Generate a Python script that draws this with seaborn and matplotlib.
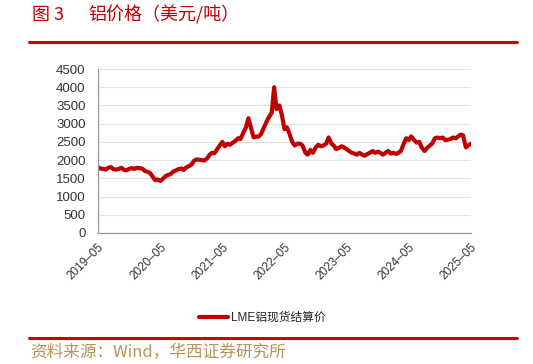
import matplotlib
matplotlib.use("Agg")
import matplotlib.pyplot as plt
import seaborn as sns
import pandas as pd
from matplotlib.lines import Line2D

months = pd.date_range("2019-05-01", "2025-05-01", freq="MS")
# two readings per month (start, mid-month)
prices = [
    1800, 1770, 1760, 1740, 1790, 1810, 1750, 1740, 1760, 1790, 1730, 1720,
    1760, 1780, 1760, 1790,
    1780, 1770, 1700, 1680, 1650, 1560, 1450, 1470, 1430, 1480, 1560, 1590,
    1620, 1680, 1720, 1750, 1770, 1730, 1800, 1830, 1880, 1980, 2020, 2010,
    2000, 1990, 2050, 2150, 2200, 2190, 2300, 2400, 2500, 2380, 2450, 2420,
    2480, 2520, 2600, 2580, 2750, 2880, 3150, 2900, 2620, 2640, 2650, 2720,
    2900, 3050, 3200, 3300, 4000, 3400, 3500, 3250, 2850, 2900, 2700, 2500,
    2400, 2450, 2450, 2400, 2200, 2150, 2280, 2200, 2350, 2420, 2380, 2400,
    2450, 2620, 2450, 2400, 2300, 2330, 2380, 2350, 2300, 2250, 2200, 2180,
    2150, 2200, 2150, 2120, 2170, 2200, 2250, 2200, 2230, 2200, 2150, 2200,
    2250, 2180, 2200, 2170, 2200, 2250, 2450, 2600, 2550, 2650, 2550, 2480,
    2500, 2350, 2250, 2330, 2400, 2450, 2600, 2620, 2600, 2620, 2550, 2560,
    2580, 2620, 2600, 2650, 2700, 2680, 2350, 2400, 2450,
]
dates = []
for m in months:
    dates.append(m)
    dates.append(m + pd.Timedelta(days=14))
dates = dates[:len(prices)]

tick_labels = ["2019–05", "2020–05", "2021–05", "2022–05", "2023–05", "2024–05", "2025–05"]
tick_dates = pd.to_datetime(["2019-05-01", "2020-05-01", "2021-05-01", "2022-05-01",
                             "2023-05-01", "2024-05-01", "2025-05-01"])
y_ticks = [0, 500, 1000, 1500, 2000, 2500, 3000, 3500, 4000, 4500]

series_name = "LME铝现货结算价"
df = pd.DataFrame({"date": dates, "price": prices})

sns.set_theme(style="white")
plt.rcParams["font.family"] = ["Liberation Sans", "Noto Sans CJK SC", "DejaVu Sans"]

RED = "#c00000"
fig = plt.figure(figsize=(5.33, 3.64), dpi=100)
ax = fig.add_axes([98 / 533, 1 - 233 / 364, (471 - 98) / 533, (233 - 69) / 364])

sns.lineplot(data=df, x="date", y="price", ax=ax, color=RED, linewidth=3.0, legend=False)

ax.set_xlim(pd.Timestamp("2019-05-01"), pd.Timestamp("2025-05-01"))
ax.set_ylim(0, 4500)
ax.set_yticks(y_ticks)
ax.set_yticklabels([str(v) for v in y_ticks], fontsize=9.5, color="#333333")
ax.set_xticks(tick_dates)
ax.set_xticklabels(tick_labels, rotation=45, ha="right", rotation_mode="anchor",
                   fontsize=8.5, color="#333333")
ax.set_xlabel("")
ax.set_ylabel("")
ax.grid(axis="y", color="#e3e3e3", linewidth=0.8)
ax.set_axisbelow(True)
for s in ["top", "right"]:
    ax.spines[s].set_visible(False)
for s in ["left", "bottom"]:
    ax.spines[s].set_color("#999999")
    ax.spines[s].set_linewidth(0.9)
ax.tick_params(axis="x", direction="out", length=4, color="#999999", pad=2)
ax.tick_params(axis="y", direction="out", length=3, color="#cccccc", pad=6)

# header and footer
cjk = ["Noto Sans CJK SC", "DejaVu Sans"]
fig.text(32 / 533, 1 - 15 / 364, "图 3", fontsize=13, color=RED,
         va="center", ha="left", family=cjk, fontweight="light")
fig.text(88 / 533, 1 - 15 / 364, "铝价格（美元/吨）", fontsize=13, color=RED,
         va="center", ha="left", family=cjk, fontweight="light")
fig.add_artist(Line2D([29 / 533, 517 / 533], [1 - 42 / 364, 1 - 42 / 364],
                      color="#cc0000", linewidth=2.2))
fig.add_artist(Line2D([29 / 533, 517 / 533], [1 - 338 / 364, 1 - 338 / 364],
                      color="#cc0000", linewidth=2.2))
fig.text(30 / 533, 1 - 352 / 364, "资料来源：Wind，华西证券研究所", fontsize=12,
         color="#b8935a", va="center", ha="left", family=cjk, fontweight="light")

handle = Line2D([], [], color=RED, linewidth=3.0)
fig.legend([handle], [series_name], loc="center", bbox_to_anchor=(262 / 533, 1 - 318 / 364),
           frameon=False, handlelength=2.5, handletextpad=0.2,
           prop={"family": ["Liberation Sans", "Noto Sans CJK SC"], "size": 8.5})

fig.savefig("out.png", dpi=100)
